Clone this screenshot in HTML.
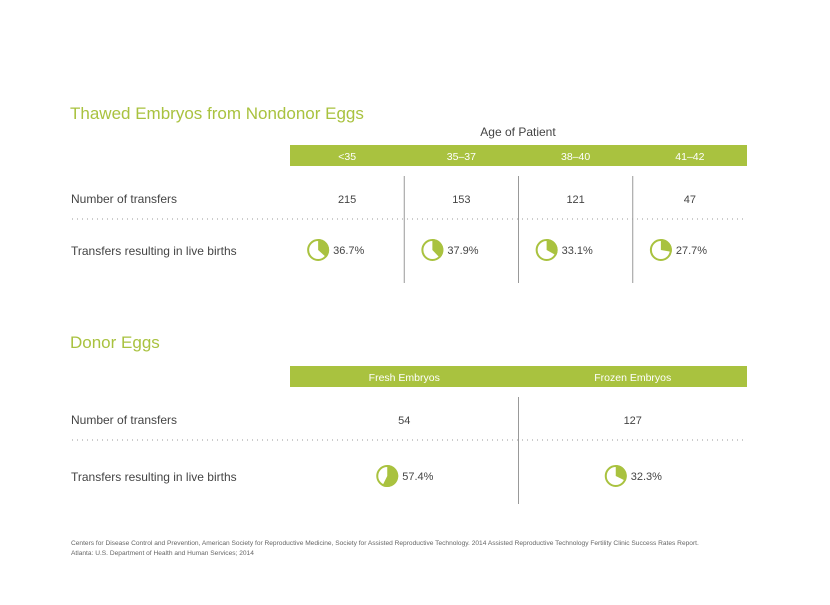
<!DOCTYPE html>
<html><head><meta charset="utf-8"><style>
body{margin:0;width:830px;height:600px;background:#fff;font-family:"Liberation Sans",sans-serif;overflow:hidden}
svg text{font-family:"Liberation Sans",sans-serif}
</style></head><body>
<svg id="c" width="830" height="600"></svg>
<script>
const ageCats=["<35","35–37","38–40","41–42"];
const ageTransfers=[215,153,121,47];
const ageRates=[36.7,37.9,33.1,27.7];
const donorCats=["Fresh Embryos","Frozen Embryos"];
const donorTransfers=[54,127];
const donorRates=[57.4,32.3];
const G="#a9c23f", T="#444";
const svg=document.getElementById('c');
const NS="http://www.w3.org/2000/svg";
function mk(tag,attrs,parent,txt){const e=document.createElementNS(NS,tag);for(const k in attrs)e.setAttribute(k,attrs[k]);if(txt!==undefined)e.textContent=txt;(parent||svg).appendChild(e);return e;}
function pie(cx,cy,r,pct,g){
  mk('circle',{cx:cx,cy:cy,r:r-1,fill:'#fff',stroke:G,'stroke-width':2},g);
  const a=pct/100*2*Math.PI;
  const x=cx+r*Math.sin(a),y=cy-r*Math.cos(a);
  const large=pct>50?1:0;
  mk('path',{d:`M${cx},${cy} L${cx},${cy-r} A${r},${r} 0 ${large} 1 ${x},${y} Z`,fill:G},g);
}
function section(title,ty,cats,transfers,rates,barY,top){
  const t=mk('text',{x:70,y:ty,fill:G,'font-size':17},svg,title);
  
  const x0=290,x1=747,w=(x1-x0)/cats.length;
  const bar=mk('rect',{x:x0,y:barY,width:x1-x0,height:21,fill:G});
  
  const numY=barY+54, dotY=barY+74, pieY=barY+(cats.length===4?105:110);
  const l1=mk('text',{x:71,y:numY+4,fill:T,'font-size':12},svg,'Number of transfers');
  
  const l2=mk('text',{x:71,y:pieY+5,fill:T,'font-size':12},svg,'Transfers resulting in live births');
  
  const dl=mk('line',{x1:72,x2:745,y1:dotY,y2:dotY,stroke:'#999','stroke-width':1,'stroke-dasharray':'1 4'});
  
  cats.forEach((c,i)=>{
    const cx=x0+w*i+w/2;
    const h=mk('text',{x:cx,y:barY+15,fill:'#fff','font-size':10.5,'text-anchor':'middle'},svg,c);
    
    if(i>0){const d=mk('line',{x1:x0+w*i,x2:x0+w*i,y1:barY+31,y2:barY+138,stroke:'#999','stroke-width':1});
      }
    const n=mk('text',{x:cx,y:numY+4,fill:T,'font-size':11,'text-anchor':'middle'},svg,transfers[i]);
    
    const g=mk('g',{});
    
    const px=cx-(cats.length===4?29:17);
    pie(px,pieY,11,rates[i],g);
    const p=mk('text',{x:px+15,y:pieY+4,fill:T,'font-size':11},svg,rates[i].toFixed(1)+'%');
    
  });
}
const ap=mk('text',{x:518,y:136,fill:T,'font-size':12,'text-anchor':'middle'},svg,'Age of Patient');

section('Thawed Embryos from Nondonor Eggs',119,ageCats,ageTransfers,ageRates,145);
section('Donor Eggs',348,donorCats,donorTransfers,donorRates,366);
const s1=mk('text',{x:71,y:545,fill:'#666','font-size':6.6},svg,'Centers for Disease Control and Prevention, American Society for Reproductive Medicine, Society for Assisted Reproductive Technology. 2014  Assisted Reproductive Technology Fertility Clinic Success Rates Report.');

const s2=mk('text',{x:71,y:555,fill:'#666','font-size':6.6},svg,'Atlanta: U.S. Department of Health and Human Services; 2014');

</script>
</body></html>
